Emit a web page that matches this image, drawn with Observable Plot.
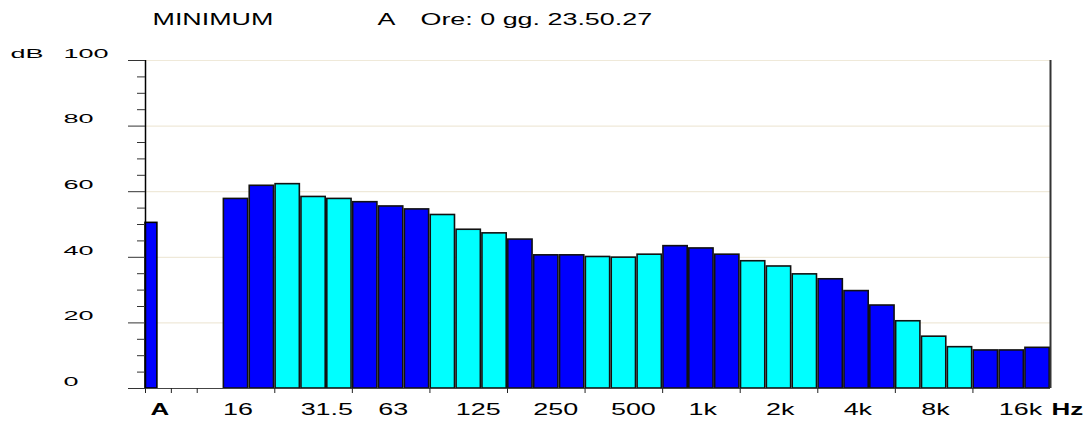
<!DOCTYPE html>
<html>
<head>
<meta charset="utf-8">
<script src="https://cdn.jsdelivr.net/npm/d3@7"></script>
<script src="https://cdn.jsdelivr.net/npm/@observablehq/plot@0.6"></script>
<style>
  html, body { margin: 0; padding: 0; background: #fff; }
  #chart svg { display: block; }
</style>
</head>
<body>
<div id="chart"></div>
<script>
// ---- data ----
const bandLabels = ["16","20","25","31.5","40","50","63","80","100","125","160","200","250","315","400","500","630","800","1k","1.25k","1.6k","2k","2.5k","3.15k","4k","5k","6.3k","8k","10k","12.5k","16k","20k"];
const bandLevels = [57.8,61.8,62.3,58.4,57.8,56.8,55.5,54.6,52.9,48.4,47.3,45.4,40.6,40.6,40.1,39.9,40.8,43.4,42.7,40.8,38.8,37.2,34.8,33.3,29.7,25.3,20.5,15.8,12.6,11.6,11.6,12.4];
const aLabel = "A";
const aLevel = 50.5;
const octaveLabels = ["16","31.5","63","125","250","500","1k","2k","4k","8k","16k"];
const yTicks = [0, 20, 40, 60, 80, 100];
const yMinorTicks = [5,10,15,25,30,35,45,50,55,65,70,75,85,90,95];
const titleLeft = "MINIMUM";
const titleWeight = "A";
const titleTime = "Ore: 0 gg. 23.50.27";
const yUnit = "dB";
const xUnit = "Hz";

// ---- layout helpers ----
const FIRST = 3;                          // slot of first 1/3-octave band (slots 0..2: A + gap)
const SLOTS = FIRST + bandLabels.length;  // 35
const bands = bandLabels.map((b, i) => ({
  band: b,
  level: bandLevels[i],
  slot: FIRST + i,
  parity: (i < 2 ? 0 : Math.floor((i - 2) / 3) + 1) % 2
}));
const tickSlots = [0, 1, 2, ...octaveLabels.slice(1).map((o, j) => FIRST + 2 + 3 * j)];
const labelSlots = octaveLabels.map(o => FIRST + bandLabels.indexOf(o));

const chart = Plot.plot({
  width: 1091,
  height: 421,
  marginTop: 60,
  marginBottom: 33,
  marginLeft: 145,
  marginRight: 41,
  style: { fontFamily: "'Liberation Sans', Arial, sans-serif", background: "white", color: "black" },
  x: { domain: [0, SLOTS], label: null },
  y: { domain: [0, 100], label: null },
  color: { type: "ordinal", domain: [0, 1], range: ["#0000ff", "#00ffff"] },
  marks: [
    Plot.gridY({ ticks: yTicks.slice(1), stroke: "#efe9d9", strokeOpacity: 1, strokeWidth: 1.2 }),
    Plot.rectY([{ level: aLevel }], {
      x1: () => 0, x2: () => 0.46, y: "level",
      fill: "#0000ff", stroke: "black", strokeWidth: 1.6
    }),
    Plot.rectY(bands, {
      x1: "slot", x2: d => d.slot + 1, y: "level",
      fill: "parity", stroke: "#111", strokeWidth: 1.6, insetLeft: 0.8, insetRight: 0.8
    }),
    Plot.ruleY([0], { stroke: "#444", strokeWidth: 1.2 }),
    Plot.ruleX([0], { y1: 0, y2: 100, stroke: "black", strokeWidth: 1.5 }),
    Plot.ruleX([SLOTS], { y1: 0, y2: 100, stroke: "#333", strokeWidth: 2 }),
    // y axis: ticks
    Plot.axisY({ ticks: yMinorTicks, tickSize: 8, tickFormat: () => "", stroke: "#333", label: null }),
    Plot.axisY({ ticks: yTicks, tickSize: 17, tickFormat: () => "", stroke: "#333", label: null }),
    // y axis: labels (left-aligned)
    Plot.axisY({
      ticks: yTicks, tickSize: 0, tickPadding: 0, textAnchor: "start", dx: -82, dy: -7,
      fontSize: 13.5, stroke: "none", fill: "black", tickFormat: d => String(d), label: null
    }),
    Plot.text([yUnit], { text: d => d, frameAnchor: "top-left", dx: -135, dy: -7, textAnchor: "start", lineAnchor: "middle", fontSize: 13.5, fill: "black" }),
    // x axis
    Plot.axisX({ ticks: tickSlots, tickSize: 5, tickFormat: () => "", stroke: "#222", label: null }),
    Plot.axisX({
      ticks: labelSlots, tickSize: 0, tickPadding: 15, textAnchor: "start", fontSize: 16, fill: "black", stroke: "none",
      tickFormat: s => octaveLabels[labelSlots.indexOf(s)], label: null
    }),
    Plot.axisX({
      ticks: [0], tickSize: 0, tickPadding: 15, textAnchor: "start", dx: 5, fontSize: 16, fontWeight: "bold", fill: "black", stroke: "none",
      tickFormat: () => aLabel, label: null
    }),
    Plot.axisX({
      ticks: [SLOTS], tickSize: 0, tickPadding: 15, textAnchor: "start", dx: 1, fontSize: 16, fontWeight: "bold", fill: "black", stroke: "none",
      tickFormat: () => xUnit, label: null
    }),
    // title
    Plot.text([titleLeft], { text: d => d, frameAnchor: "top-left", dx: 7, dy: -36, textAnchor: "start", lineAnchor: "bottom", fontSize: 16, fill: "black" }),
    Plot.text([titleWeight], { text: d => d, frameAnchor: "top-left", dx: 232, dy: -36, textAnchor: "start", lineAnchor: "bottom", fontSize: 16, fill: "black" }),
    Plot.text([titleTime], { text: d => d, frameAnchor: "top-left", dx: 275, dy: -36, textAnchor: "start", lineAnchor: "bottom", fontSize: 16, fill: "black" })
  ]
});

document.getElementById("chart").append(chart);

// The reference image is horizontally stretched: widen glyphs to match.
chart.querySelectorAll("text").forEach(t => {
  if (!t.textContent.trim()) return;
  const cs = getComputedStyle(t);
  const fs = parseFloat(cs.fontSize);
  const bold = cs.fontWeight === "bold" || parseInt(cs.fontWeight) >= 600;
  const k = fs < 15 ? 2.0 : (bold ? 1.62 : 1.68);
  const w = t.getComputedTextLength();
  t.setAttribute("textLength", (w * k).toFixed(1));
  t.setAttribute("lengthAdjust", "spacingAndGlyphs");
});
</script>
</body>
</html>
